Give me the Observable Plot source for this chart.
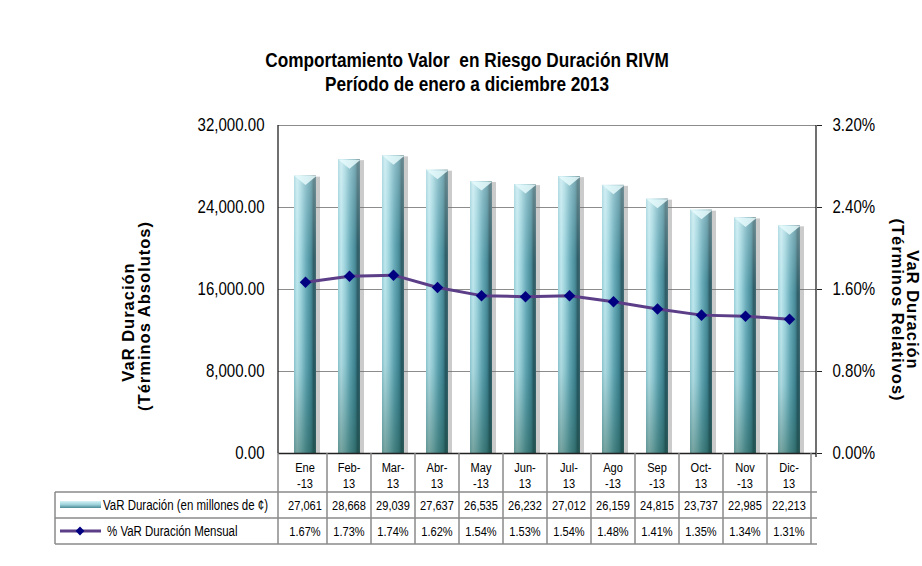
<!DOCTYPE html>
<html><head><meta charset="utf-8">
<script src="https://cdn.jsdelivr.net/npm/d3@7"></script>
<script src="https://cdn.jsdelivr.net/npm/@observablehq/plot@0.6"></script>
<style>
body{margin:0;background:#fff}
#chart svg{display:block;background:#fff}
</style>
</head><body><div id="chart"></div>
<script>
// ---------- data ----------
const months = ["Ene-13","Feb-13","Mar-13","Abr-13","May-13","Jun-13","Jul-13","Ago-13","Sep-13","Oct-13","Nov-13","Dic-13"];
const monthLabels = [["Ene","-13"],["Feb-","13"],["Mar-","13"],["Abr-","13"],["May","-13"],["Jun-","13"],["Jul-","13"],["Ago","-13"],["Sep","-13"],["Oct-","13"],["Nov","-13"],["Dic-","13"]];
const varValues = [27061, 28668, 29039, 27637, 26535, 26232, 27012, 26159, 24815, 23737, 22985, 22213];
const varPct = [1.67, 1.73, 1.74, 1.62, 1.54, 1.53, 1.54, 1.48, 1.41, 1.35, 1.34, 1.31];
const leftTicks = [0, 8000, 16000, 24000, 32000];
const rightTicks = [0, 0.8, 1.6, 2.4, 3.2];
const titleLines = ["Comportamiento Valor  en Riesgo Duración RIVM", "Período de enero a diciembre 2013"];
const leftTitle = ["VaR Duración", "(Términos Absolutos)"];
const rightTitle = ["VaR Duración", "(Términos Relativos)"];
const legendLabels = ["VaR Duración (en millones de ¢)", "% VaR Duración Mensual"];

const PCT_TO_Y = 32000 / 3.2; // right axis: 3.20% aligns with 32,000
const data = months.map((m, i) => ({month: m, value: varValues[i], pct: varPct[i], pctY: varPct[i] * PCT_TO_Y}));

const FONT = "'Liberation Sans',Arial,sans-serif";
const fmtVal = d3.format(",");

// ---------- table + titles (drawn from the library's x scale) ----------
function tableMark(index, scales, values, dims) {
  const x = scales.x, bw = x.bandwidth();
  const g = d3.create("svg:g");
  const y0 = dims.height - dims.marginBottom;
  const rowY = [y0, y0 + 39, y0 + 65, y0 + 91];
  const xl = dims.marginLeft, xr = dims.width - dims.marginRight;
  const legendX = 55;
  const lineCol = "#8a8a8a";
  [rowY[1], rowY[2], rowY[3]].forEach((yy) =>
    g.append("line").attr("x1", legendX).attr("x2", xr + 1).attr("y1", yy).attr("y2", yy)
      .attr("stroke", lineCol).attr("stroke-width", 1.5));
  g.append("line").attr("x1", legendX).attr("x2", legendX).attr("y1", rowY[1]).attr("y2", rowY[3]).attr("stroke", lineCol).attr("stroke-width", 1.5);
  months.forEach((m) => {
    const xe = x(m) + bw;
    g.append("line").attr("x1", xe).attr("x2", xe).attr("y1", y0).attr("y2", rowY[3]).attr("stroke", lineCol).attr("stroke-width", 1.5);
  });
  g.append("line").attr("x1", xl).attr("x2", xl).attr("y1", y0).attr("y2", rowY[3]).attr("stroke", lineCol).attr("stroke-width", 1.5);
  const t = g.append("g").attr("class", "narrow").attr("font-family", FONT).attr("font-size", 13.5).attr("fill", "#000").attr("text-anchor", "middle");
  months.forEach((m, i) => {
    const cx = x(m) + bw / 2;
    t.append("text").attr("x", cx).attr("y", y0 + 19).text(monthLabels[i][0]);
    t.append("text").attr("x", cx).attr("y", y0 + 35).text(monthLabels[i][1]);
    t.append("text").attr("x", cx).attr("y", rowY[1] + 18).text(fmtVal(varValues[i]));
    t.append("text").attr("x", cx).attr("y", rowY[2] + 18).text(varPct[i].toFixed(2) + "%");
  });
  // legend keys
  g.append("rect").attr("x", 60).attr("y", rowY[1] + 9).attr("width", 41).attr("height", 7).attr("fill", "url(#legGrad)");
  g.append("line").attr("x1", 60).attr("x2", 101).attr("y1", rowY[2] + 13).attr("y2", rowY[2] + 13).attr("stroke", "#5b3e87").attr("stroke-width", 3);
  g.append("path").attr("d", d3.symbol(d3.symbolDiamond2, 50)()).attr("transform", `translate(80,${rowY[2] + 13})`).attr("fill", "#000080");
  const lt = g.append("g").attr("class", "narrow").attr("font-family", FONT).attr("font-size", 14).attr("fill", "#000").attr("text-anchor", "start");
  lt.append("text").attr("x", 103).attr("y", rowY[1] + 18).text(legendLabels[0]);
  lt.append("text").attr("x", 107).attr("y", rowY[2] + 18).text(legendLabels[1]);
  // chart title
  const tt = g.append("g").attr("class", "narrow").attr("font-family", FONT).attr("font-weight", "bold").attr("font-size", 21).attr("text-anchor", "middle").attr("fill", "#000");
  tt.append("text").attr("x", 467).attr("y", 67).attr("xml:space", "preserve").text(titleLines[0]);
  tt.append("text").attr("x", 467).attr("y", 91).text(titleLines[1]);
  // axis titles
  const at = g.append("g").attr("font-family", FONT).attr("font-weight", "bold").attr("font-size", 16.5).attr("text-anchor", "middle").attr("fill", "#000").attr("letter-spacing", 1);
  at.append("text").attr("transform", "translate(134,322) rotate(-90)").text(leftTitle[0]);
  at.append("text").attr("transform", "translate(150,316) rotate(-90)").text(leftTitle[1]);
  at.append("text").attr("transform", "translate(907,310) rotate(90)").text(rightTitle[0]);
  at.append("text").attr("transform", "translate(892,310) rotate(90)").text(rightTitle[1]);
  return g.node();
}

// bevel top of each bar
const bevel = {draw(ctx) { ctx.moveTo(-11, 0); ctx.lineTo(11, 0); ctx.lineTo(0, 9); ctx.closePath(); }};

const chart = Plot.plot({
  width: 922,
  height: 566,
  marginTop: 125,
  marginBottom: 113,
  marginLeft: 278,
  marginRight: 106,
  style: {fontFamily: FONT, fontSize: "17.5px", color: "#000", background: "#fff"},
  x: {type: "band", domain: months, padding: 0, axis: null},
  y: {domain: [0, 32000], axis: null},
  marks: [
    Plot.gridY(leftTicks, {stroke: "#8c8c8c", strokeOpacity: 1, strokeWidth: 1.2}),
    Plot.barY(data, {x: "month", y: "value", fill: "#6a6a6a", fillOpacity: 0.35, insetLeft: 13, insetRight: 7, dy: 1, ariaLabel: "bar-shadow"}),
    Plot.barY(data, {x: "month", y: "value", fill: "url(#barGrad)", insetLeft: 11, insetRight: 11}),
    Plot.barY(data, {x: "month", y: "value", fill: "url(#barShade)", insetLeft: 11, insetRight: 11}),
    Plot.dot(data, {x: "month", y: "value", symbol: bevel, r: 5, fill: "#e6fafc", fillOpacity: 0.85, stroke: "none"}),
    Plot.ruleY([0], {stroke: "#222", strokeWidth: 1.3}),
    Plot.axisY(leftTicks, {anchor: "left", tickSize: 0, tickPadding: 14, tickFormat: d3.format(",.2f"), label: null, fontSize: 17.5}),
    Plot.axisY(rightTicks.map(d => d * PCT_TO_Y), {anchor: "right", tickSize: 5, tickPadding: 11, tickFormat: d => (d / PCT_TO_Y).toFixed(2) + "%", label: null, fontSize: 17.5, stroke: "#222"}),
    Plot.line(data, {x: "month", y: "pctY", stroke: "#5b3e87", strokeWidth: 3}),
    Plot.dot(data, {x: "month", y: "pctY", symbol: "diamond2", r: 5.2, fill: "#000080", stroke: "none"}),
    tableMark
  ]
});

const svg = d3.select(chart);
const defs = svg.insert("defs", ":first-child");
const g1 = defs.append("linearGradient").attr("id", "barGrad").attr("x1", 0).attr("x2", 1).attr("y1", 0).attr("y2", 0);
[[0, "#93cdd7"], [0.14, "#bde7ee"], [0.32, "#98d1db"], [0.55, "#62a8b6"], [0.78, "#3f8593"], [0.9, "#24525c"], [1, "#3a6670"]]
  .forEach(([o, c]) => g1.append("stop").attr("offset", o).attr("stop-color", c));
const g2 = defs.append("linearGradient").attr("id", "barShade").attr("x1", 0).attr("x2", 0).attr("y1", 0).attr("y2", 1);
[[0, "#ffffff", 0.3], [0.3, "#ffffff", 0.05], [0.7, "#1e5a5a", 0.1], [1, "#1f5040", 0.45]]
  .forEach(([o, c, a]) => g2.append("stop").attr("offset", o).attr("stop-color", c).attr("stop-opacity", a));
const g3 = defs.append("linearGradient").attr("id", "legGrad").attr("x1", 0).attr("x2", 0).attr("y1", 0).attr("y2", 1);
[[0, "#d6f3f6"], [0.5, "#9fd3dc"], [1, "#4a8a96"]]
  .forEach(([o, c]) => g3.append("stop").attr("offset", o).attr("stop-color", c));
const blur = defs.append("filter").attr("id", "soft").attr("x", "-50%").attr("width", "200%");
blur.append("feGaussianBlur").attr("stdDeviation", 2);
svg.selectAll("g[aria-label='bar-shadow']").attr("filter", "url(#soft)");

// left & right axis lines, from the plot's scales
const xs = chart.scale("x"), ys = chart.scale("y");
const axisG = svg.append("g").attr("stroke", "#222").attr("stroke-width", 1.3);
const left = xs.range[0], right = xs.range[1];
axisG.append("line").attr("x1", left).attr("x2", left).attr("y1", ys.apply(32000)).attr("y2", ys.apply(0));
axisG.append("line").attr("x1", right).attr("x2", right).attr("y1", ys.apply(32000)).attr("y2", ys.apply(0) + 4);

// narrow (Arial Narrow-like) lettering: condense glyphs horizontally (y is untouched by scaleX)
function condense(sel, k) {
  sel.each(function () {
    const el = d3.select(this);
    const xa = el.attr("x");
    const x = xa != null && isFinite(+xa) ? +xa : 0;
    if (xa != null && isFinite(+xa)) el.attr("x", null);
    const t = el.attr("transform") || "";
    el.attr("transform", `${t} translate(${x},0) scale(${k},1)`);
  });
}
condense(svg.selectAll("g[aria-label^='y-axis'] text"), 0.86);
condense(svg.selectAll("g.narrow text"), 0.82);

document.getElementById("chart").appendChild(chart);
</script>
</body></html>
